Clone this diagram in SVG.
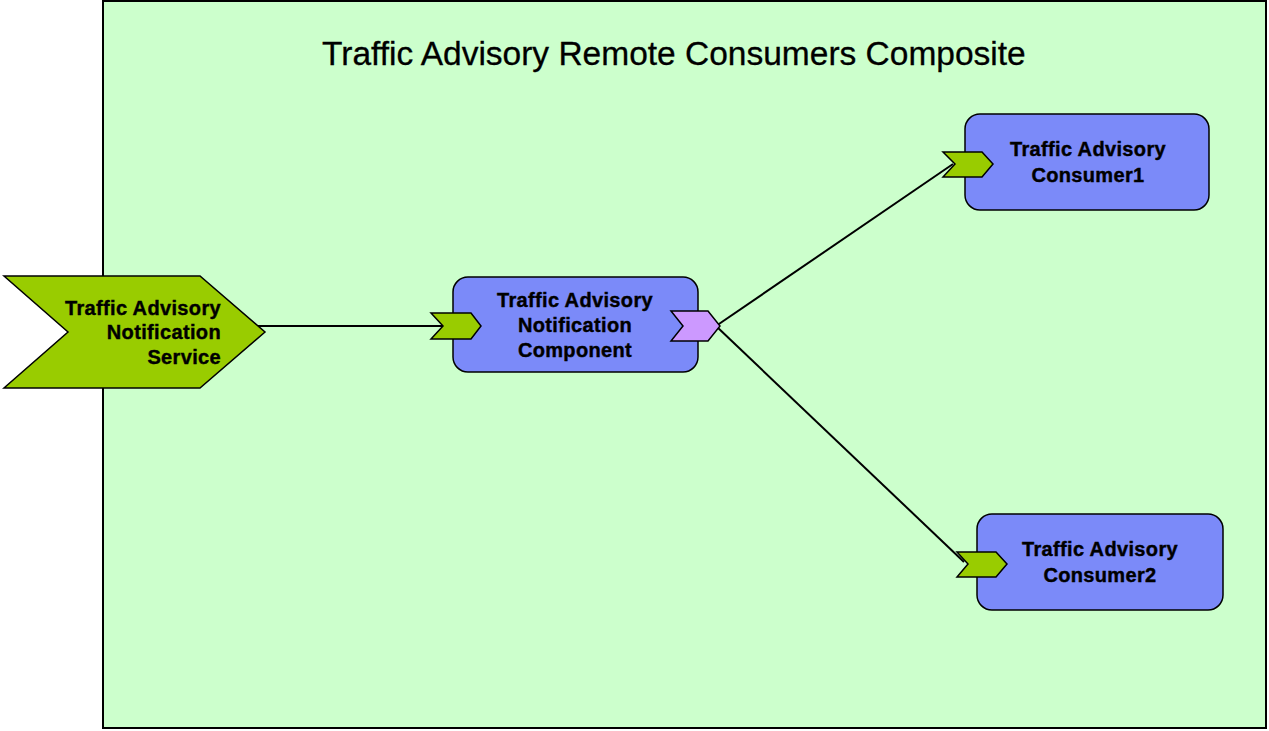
<svg xmlns="http://www.w3.org/2000/svg" width="1269" height="731" viewBox="0 0 1269 731">
<style>
.lbl{font-family:"Liberation Sans",Arial,sans-serif;font-weight:bold;font-size:20px;letter-spacing:0.35px;fill:#000;stroke:#000;stroke-width:0.4}
.box{fill:#7B8AF9;stroke:#000;stroke-width:1.5}
.gport{fill:#99CC00;stroke:#000;stroke-width:1.5;stroke-linejoin:miter}
.pport{fill:#CC99FF;stroke:#000;stroke-width:1.5}
.wire{stroke:#000;stroke-width:2;fill:none}
</style>
<rect width="1269" height="731" fill="#fff"/>
<g id="composite">
<rect x="103" y="1" width="1163" height="727" fill="#CCFFCC" stroke="#000" stroke-width="2"/>
<text x="322" y="65" font-family="Liberation Sans,Arial,sans-serif" font-size="33.5" fill="#000" stroke="#000" stroke-width="0.3">Traffic Advisory Remote Consumers Composite</text>
</g>
<g id="connectors">
<line class="wire" x1="255" y1="326" x2="443" y2="326"/>
<line class="wire" x1="716" y1="326" x2="953" y2="164"/>
<line class="wire" x1="716" y1="326" x2="964" y2="562"/>
</g>
<g id="service">
<polygon class="gport" points="4,276 200,276 265,332 200,388 4,388 68,332"/>
<text class="lbl" text-anchor="end"><tspan x="221" y="315">Traffic Advisory</tspan><tspan x="221" y="339">Notification</tspan><tspan x="221" y="364">Service</tspan></text>
</g>
<g id="component">
<rect class="box" x="453" y="277" width="245" height="95" rx="15"/>
<polygon class="gport" points="431,313 471,313 481,326 471,339 431,339 443,326"/>
<polygon class="pport" points="671,311 708,311 720,326 708,341 671,341 683,326"/>
<text class="lbl" text-anchor="middle"><tspan x="575" y="307">Traffic Advisory</tspan><tspan x="575" y="332">Notification</tspan><tspan x="575" y="357">Component</tspan></text>
</g>
<g id="consumer1">
<rect class="box" x="965" y="114" width="244" height="96" rx="15"/>
<polygon class="gport" points="943,152 982,152 993,164 982,177 943,177 955,164"/>
<text class="lbl" text-anchor="middle"><tspan x="1088" y="156">Traffic Advisory</tspan><tspan x="1088" y="182">Consumer1</tspan></text>
</g>
<g id="consumer2">
<rect class="box" x="977" y="514" width="246" height="96" rx="15"/>
<polygon class="gport" points="957,552 996,552 1007,564 996,577 957,577 968,564"/>
<text class="lbl" text-anchor="middle"><tspan x="1100" y="556">Traffic Advisory</tspan><tspan x="1100" y="582">Consumer2</tspan></text>
</g>
</svg>
